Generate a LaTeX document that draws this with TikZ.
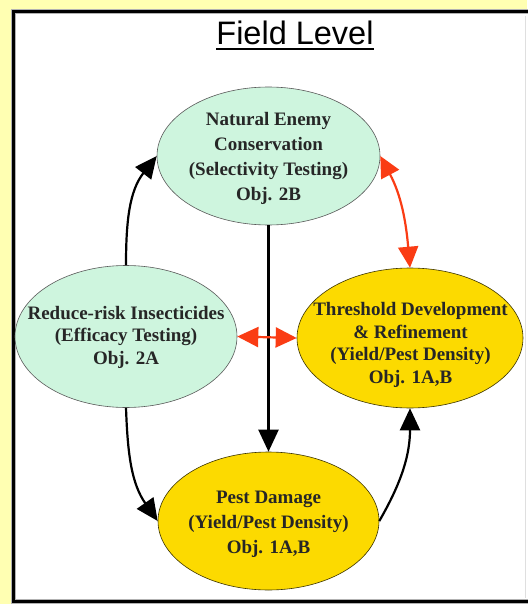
\documentclass[tikz,border=0pt]{standalone}
\usepackage{fontspec}
\setmainfont{Liberation Serif}
\newfontfamily\titlefont{Liberation Sans}
\usetikzlibrary{shapes.geometric,arrows.meta}
\definecolor{bgyellow}{RGB}{255,255,178}
\definecolor{ellgreen}{RGB}{206,245,222}
\definecolor{ellyellow}{RGB}{252,218,0}
\definecolor{arrred}{RGB}{250,60,20}
\tikzset{
  ellbase/.style={ellipse, inner sep=0pt, draw=black!65, line width=0.6pt},
  ellg/.style={ellbase, fill=ellgreen},
  elly/.style={ellbase, fill=ellyellow, draw=black!60!ellyellow!60!black},
  txt/.style={align=center, inner sep=0pt, font=\bfseries\fontsize{19}{25}\selectfont, text=black!85},
  txtc/.style={txt, font=\bfseries\fontsize{19}{22.5}\selectfont},
  blk/.style={line width=2.2pt, draw=black, -{Triangle[length=22pt,width=20pt]}},
  red2/.style={line width=2.2pt, draw=arrred, {Triangle[length=21pt,width=20pt]}-{Triangle[length=21pt,width=20pt]}}
}
\begin{document}
\begin{tikzpicture}[x=1pt,y=-1pt]
\useasboundingbox (0,0) rectangle (527,604);
\fill[bgyellow] (0,0) rectangle (527,604);
\fill[white] (12,10) rectangle (540,603);
\draw[gray!60, line width=5pt] (13.5,11.5) rectangle (545,601.5);
\draw[black, line width=3pt] (13.5,11.5) rectangle (545,601.5);
\draw[gray!25, line width=1pt] (525,16) -- (525,598);

% title
\node[anchor=base, inner sep=0pt, font=\titlefont\fontsize{32.5}{36}\selectfont] (title) at (295,45) {Field Level};
\draw[line width=2pt] ([yshift=-4pt]title.base west) -- ([yshift=-4pt]title.base east);

% ellipses
\node[ellg, minimum width=223pt, minimum height=138pt] (ne) at (268.5,156) {};
\node[ellg, minimum width=222pt, minimum height=142pt] (rr) at (126,336.5) {};
\node[elly, minimum width=226pt, minimum height=140pt] (th) at (410,338) {};
\node[elly, minimum width=221pt, minimum height=138pt] (pd) at (268.5,521) {};

% texts
\node[txt] (neT) at (268.5,158) {Natural Enemy\\Conservation\\(Selectivity Testing)\\Obj. 2B};
\node[txtc] (rrT) at (126,337) {Reduce-risk Insecticides\\(Efficacy Testing)\\Obj. 2A};
\node[txtc] (thT) at (410.5,345) {Threshold Development\\\&\ Refinement\\(Yield/Pest Density)\\Obj. 1A,B};
\node[txt] (pdT) at (268.5,524) {Pest Damage\\(Yield/Pest Density)\\Obj. 1A,B};

% black arrows
\draw[blk] (ne.south) -- (pd.north);
\draw[blk] (rr.north) to[out=90, in=232] (ne.west);
\draw[blk] (rr.south) to[out=-88, in=125] (pd.west);
\draw[blk] (pd.east) to[out=60, in=-90] (th.south);

% red arrows
\draw[red2] (ne.east) to[out=-62, in=95] (th.north);
\draw[red2] (rr.east) -- (th.west);
\end{tikzpicture}
\end{document}
